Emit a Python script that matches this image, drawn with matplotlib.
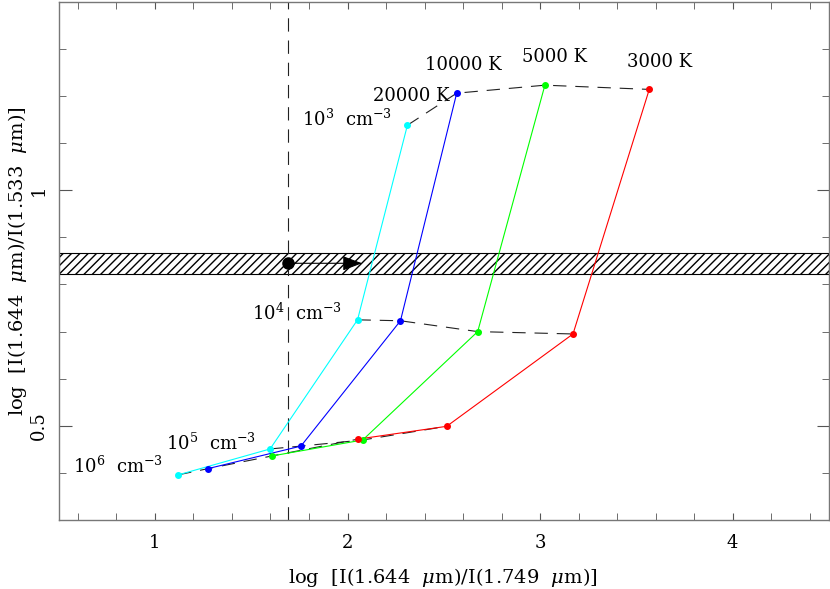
import numpy as np
import matplotlib
matplotlib.use("Agg")
import matplotlib.pyplot as plt
from matplotlib.ticker import MultipleLocator

plt.rcParams["font.family"] = ["DejaVu Serif"]
plt.rcParams["mathtext.fontset"] = "dejavuserif"

# model grid: one curve per temperature, points ordered 10^6 .. 10^3 cm^-3
temps = ["20000 K", "10000 K", "5000 K", "3000 K"]
colors = ["cyan", "blue", "lime", "red"]
x_vals = [
    [1.121, 1.598, 2.052, 2.311],
    [1.273, 1.758, 2.275, 2.567],
    [1.606, 2.079, 2.676, 3.025],
    [2.057, 2.515, 3.171, 3.567],
]
y_vals = [
    [0.396, 0.451, 0.725, 1.138],
    [0.409, 0.457, 0.723, 1.206],
    [0.436, 0.470, 0.700, 1.223],
    [0.472, 0.499, 0.695, 1.214],
]
dens_labels = [r"10$^6$  cm$^{-3}$", r"10$^5$  cm$^{-3}$",
               r"10$^4$  cm$^{-3}$", r"10$^3$  cm$^{-3}$"]

# observed ratio band and lower limit
band = [0.823, 0.867]
obs_x = 1.692
obs_y = 0.845
arrow_end = 2.09

fig = plt.figure(figsize=(8.3, 5.89), dpi=100)
ax = fig.add_axes([0.0707, 0.117, 0.928, 0.880])

xv = np.array(x_vals)
yv = np.array(y_vals)

# iso-density dashed lines
for j in range(xv.shape[1]):
    ax.plot(xv[:, j], yv[:, j], color="#222222", lw=0.8, dashes=(12, 8), zorder=2)

# temperature curves
for i in range(len(temps)):
    ax.plot(xv[i], yv[i], color=colors[i], lw=0.8, zorder=3)
    ax.plot(xv[i], yv[i], "o", color=colors[i], ms=4, zorder=4)

ax.axhspan(band[0], band[1], facecolor="none", edgecolor="black",
           hatch="////", lw=0.8, zorder=1)
ax.axvline(obs_x, color="#222222", lw=0.8, dashes=(12, 8), zorder=2)
ax.plot(obs_x, obs_y, "o", color="black", ms=8, zorder=5)
ax.annotate("", xy=(arrow_end, obs_y), xytext=(obs_x, obs_y),
            arrowprops=dict(arrowstyle="-|>,head_length=1.2,head_width=0.45",
                            color="black", lw=0.8), zorder=5)

# labels
fs = 13
ax.text(2.33, 1.20, temps[0], fontsize=fs, ha="center", va="center")
ax.text(2.60, 1.265, temps[1], fontsize=fs, ha="center", va="center")
ax.text(3.075, 1.282, temps[2], fontsize=fs, ha="center", va="center")
ax.text(3.62, 1.272, temps[3], fontsize=fs, ha="center", va="center")
ax.text(2.0, 1.151, dens_labels[3], fontsize=fs, ha="center", va="center")
ax.text(1.74, 0.74, dens_labels[2], fontsize=fs, ha="center", va="center")
ax.text(1.29, 0.464, dens_labels[1], fontsize=fs, ha="center", va="center")
ax.text(0.81, 0.414, dens_labels[0], fontsize=fs, ha="center", va="center")

ax.set_xlim(0.5, 4.5)
ax.set_ylim(0.3, 1.4)
ax.xaxis.set_major_locator(MultipleLocator(1))
ax.xaxis.set_minor_locator(MultipleLocator(0.2))
ax.yaxis.set_major_locator(MultipleLocator(0.5))
ax.yaxis.set_minor_locator(MultipleLocator(0.1))
ax.tick_params(which="both", direction="in", top=True, right=True,
               color="#555555", labelsize=13)
ax.tick_params(axis="x", which="both", length=5, pad=10)
ax.tick_params(axis="y", which="major", length=9, pad=8)
ax.tick_params(axis="y", which="minor", length=5)
ax.set_xticks([1, 2, 3, 4], labels=["1", "2", "3", "4"])
ax.set_yticks([0.5, 1.0], labels=["0.5", "1"])
for lab in ax.get_yticklabels():
    lab.set_rotation(90)
    lab.set_va("center")
for s in ax.spines.values():
    s.set_color("#777777")
    s.set_linewidth(1.0)

ax.set_xlabel(r"log  [I(1.644  $\mu$m)/I(1.749  $\mu$m)]", fontsize=14)
ax.set_ylabel(r"log  [I(1.644  $\mu$m)/I(1.533  $\mu$m)]", fontsize=14)
ax.xaxis.set_label_coords(0.499, -0.11)
ax.yaxis.set_label_coords(-0.053, 0.5)
ax.xaxis.label.set_va("center")
ax.yaxis.label.set_va("center")

fig.savefig("out.png", dpi=100)
